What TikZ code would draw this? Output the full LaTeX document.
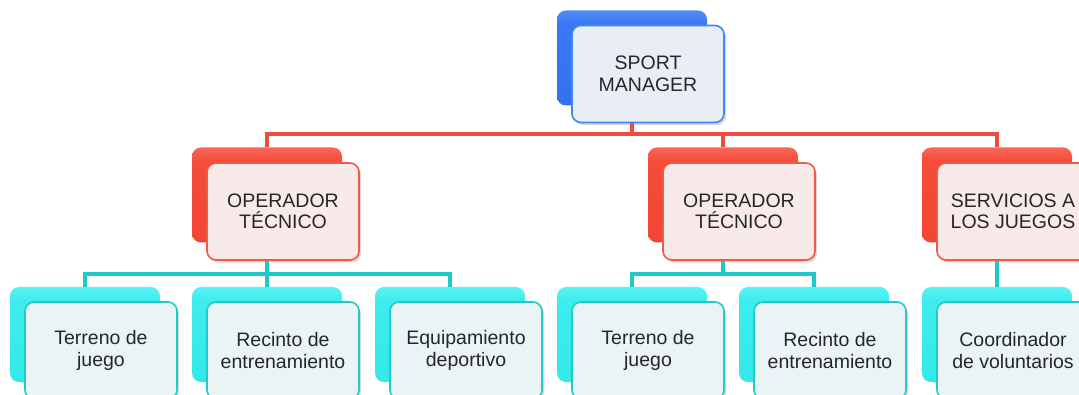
\documentclass[tikz,border=0pt]{standalone}
\usepackage{fontspec}
\setmainfont{Liberation Sans}
\usetikzlibrary{shadows}
\definecolor{blueBorder}{HTML}{3A8CF0}
\definecolor{blueFill}{HTML}{E9EDF6}
\definecolor{redBorder}{HTML}{F05A48}
\definecolor{redFill}{HTML}{F8EAE9}
\definecolor{cyanBorder}{HTML}{22CACA}
\definecolor{cyanFill}{HTML}{EAF4F5}
\definecolor{redLine}{HTML}{F04A3C}
\definecolor{cyanLine}{HTML}{1FC9C9}
\definecolor{txt}{HTML}{262626}
\pgfdeclareverticalshading{glossblue}{100bp}{rgb(0bp)=(0.20,0.42,0.93); rgb(68bp)=(0.23,0.47,0.95); rgb(84bp)=(0.45,0.65,0.99); rgb(92bp)=(0.80,0.88,1.0); rgb(100bp)=(0.40,0.60,0.97)}
\pgfdeclareverticalshading{glossred}{100bp}{rgb(0bp)=(0.95,0.25,0.18); rgb(68bp)=(0.96,0.30,0.23); rgb(84bp)=(0.99,0.52,0.46); rgb(92bp)=(1.0,0.85,0.82); rgb(100bp)=(0.97,0.45,0.40)}
\pgfdeclareverticalshading{glosscyan}{100bp}{rgb(0bp)=(0.18,0.90,0.90); rgb(68bp)=(0.24,0.93,0.93); rgb(84bp)=(0.50,0.97,0.97); rgb(92bp)=(0.85,1.0,1.0); rgb(100bp)=(0.40,0.93,0.93)}
\tikzset{
  backbox/.style={rounded corners=9pt, minimum width=150pt, minimum height=95pt, inner sep=0pt,
    shade, shading=#1},
  frontbox/.style 2 args={draw=#1, fill=#2, line width=1.6pt, rounded corners=9pt,
    minimum width=152pt, minimum height=97pt, inner sep=0pt, align=center, text=txt,
    font=\fontsize{19.5}{21.5}\selectfont,
    drop shadow={opacity=0.3, shadow xshift=2pt, shadow yshift=-2.5pt}},
  redconn/.style={draw=redLine, line width=4pt},
  cyanconn/.style={draw=cyanLine, line width=4pt},
}
\begin{document}
\begin{tikzpicture}[x=1pt,y=-1pt]
\clip (0,0) rectangle (1079,395);
\fill[white] (0,0) rectangle (1079,395);
% back boxes
\node[backbox=glossblue] (smB) at (632,58) {};
\node[backbox=glossred] (op1B) at (267,195) {};
\node[backbox=glossred] (op2B) at (723,195) {};
\node[backbox=glossred] (op3B) at (997,195) {};
\node[backbox=glosscyan] (c1B) at (85,334.5) {};
\node[backbox=glosscyan] (c2B) at (267,334.5) {};
\node[backbox=glosscyan] (c3B) at (450,334.5) {};
\node[backbox=glosscyan] (c4B) at (632,334.5) {};
\node[backbox=glosscyan] (c5B) at (814,334.5) {};
\node[backbox=glosscyan] (c6B) at (997,334.5) {};
% connectors
\draw[redconn] (smB.south) -- ++(0,28) coordinate (rbus);
\draw[redconn] (op1B.north) |- (rbus) -| (op3B.north);
\draw[redconn] (rbus) -| (op2B.north);
\draw[cyanconn] (op1B.south) -- ++(0,31) coordinate (cb1);
\draw[cyanconn] (c1B.north) |- (cb1) -| (c3B.north);
\draw[cyanconn] (cb1) -| (c2B.north);
\draw[cyanconn] (op2B.south) -- ++(0,31) coordinate (cb2);
\draw[cyanconn] (c4B.north) |- (cb2) -| (c5B.north);
\draw[cyanconn] (op3B.south) -- (c6B.north);
% front boxes
\node[frontbox={blueBorder}{blueFill}] (sm) at (648,74) {SPORT\\MANAGER};
\node[frontbox={redBorder}{redFill}] (op1) at (283,211.5) {OPERADOR\\TÉCNICO};
\node[frontbox={redBorder}{redFill}] (op2) at (739,211.5) {OPERADOR\\TÉCNICO};
\node[frontbox={redBorder}{redFill}] (op3) at (1013,211.5) {SERVICIOS A\\LOS JUEGOS};
\node[frontbox={cyanBorder}{cyanFill}] (c1) at (101,350.5) {Terreno de\\juego};
\node[frontbox={cyanBorder}{cyanFill}] (c2) at (283,350.5) {Recinto de\\entrenamiento};
\node[frontbox={cyanBorder}{cyanFill}] (c3) at (466,350.5) {Equipamiento\\deportivo};
\node[frontbox={cyanBorder}{cyanFill}] (c4) at (648,350.5) {Terreno de\\juego};
\node[frontbox={cyanBorder}{cyanFill}] (c5) at (830,350.5) {Recinto de\\entrenamiento};
\node[frontbox={cyanBorder}{cyanFill}] (c6) at (1013,350.5) {Coordinador\\de voluntarios};
\end{tikzpicture}
\end{document}
